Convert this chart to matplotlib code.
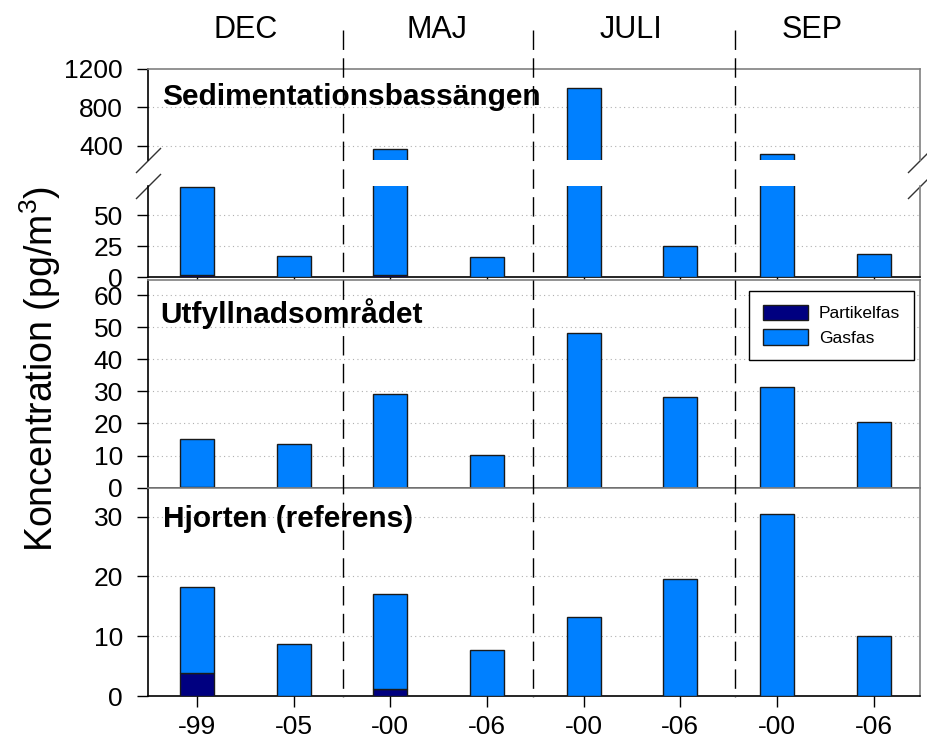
import numpy as np
import matplotlib
matplotlib.use("Agg")
import matplotlib.pyplot as plt
from matplotlib.lines import Line2D
from matplotlib.patches import Patch
from matplotlib.transforms import blended_transform_factory

plt.rcParams["font.family"] = ["Liberation Sans", "DejaVu Sans"]
plt.rcParams["mathtext.fontset"] = "custom"
plt.rcParams["mathtext.rm"] = "Liberation Sans"

# ---------------------------------------------------------------
# Data
# ---------------------------------------------------------------
months = ["DEC", "MAJ", "JULI", "SEP"]
years = ["-99", "-05", "-00", "-06", "-00", "-06", "-00", "-06"]

# Sedimentationsbassängen (total height and particle part)
sed_total = [73, 17.4, 362, 16.1, 1005, 25.5, 313, 18.5]
sed_part = [1.5, 0, 1.5, 0, 0, 0, 0, 0]

# Utfyllnadsområdet
utf_total = [15.3, 13.5, 29.1, 10.1, 48.1, 28.2, 31.5, 20.4]
utf_part = [0.3, 0, 0, 0, 0, 0, 0, 0]

# Hjorten (referens)
hjo_total = [18.2, 8.75, 17.0, 7.7, 13.3, 19.5, 30.4, 10.0]
hjo_part = [3.85, 0, 1.17, 0, 0, 0, 0, 0]

PART_COLOR = "#000080"
GAS_COLOR = "#0080FF"
EDGE = "#1a1a1a"
W = 0.35
x = np.arange(len(years))

fig = plt.figure(figsize=(9.28, 7.38), dpi=100)
L, R = 148 / 928, 920 / 928


def px_axes(top, bottom):
    return fig.add_axes([L, 1 - bottom / 738, R - L, (bottom - top) / 738])


ax_hi = px_axes(69, 160.3)
ax_lo = px_axes(186, 277.3)
ax_mid = px_axes(280, 487.7)
ax_bot = px_axes(488, 696)


def draw_bars(ax, total, part):
    total = np.array(total, dtype=float)
    part = np.array(part, dtype=float)
    gas = total - part
    ax.bar(x, part, W, color=PART_COLOR, edgecolor=EDGE, linewidth=1, zorder=3)
    ax.bar(x, gas, W, bottom=part, color=GAS_COLOR, edgecolor=EDGE, linewidth=1, zorder=3)


def style(ax, ticks, ylim):
    ax.set_xlim(-0.507, 7.48)
    ax.set_ylim(*ylim)
    ax.set_yticks(ticks)
    ax.set_xticks(x)
    ax.tick_params(axis="y", direction="out", length=8, width=1, pad=10, labelsize=19)
    ax.tick_params(axis="x", direction="out", length=6, width=1, labelbottom=False)
    for t in ticks:
        if t > ylim[0] and t < ylim[1]:
            ax.axhline(t, color="#b0b0b0", lw=0.8, ls=(0, (1, 3)), zorder=1)
    ax.spines["left"].set_color("black")
    ax.spines["bottom"].set_color("black")
    ax.spines["top"].set_color("#808080")
    ax.spines["right"].set_color("#808080")
    for s in ax.spines.values():
        s.set_linewidth(1.2)


draw_bars(ax_hi, sed_total, sed_part)
draw_bars(ax_lo, sed_total, sed_part)
draw_bars(ax_mid, utf_total, utf_part)
draw_bars(ax_bot, hjo_total, hjo_part)

style(ax_hi, [400, 800, 1200], (248, 1200))
style(ax_lo, [0, 25, 50], (0, 73.6))
style(ax_mid, [0, 10, 20, 30, 40, 50, 60], (0, 64.7))
style(ax_bot, [0, 10, 20, 30], (0, 34.8))

# broken axis: hide joining spines, add diagonal marks
ax_hi.spines["bottom"].set_visible(False)
ax_hi.tick_params(axis="x", length=0)
ax_lo.spines["top"].set_visible(False)
mark = dict(marker=[(-1, -1), (1, 1)], markersize=18, linestyle="none",
            color="#333333", mec="#333333", mew=1, clip_on=False)
ax_hi.plot([0, 1], [0, 0], transform=ax_hi.transAxes, **mark)
ax_lo.plot([0, 1], [1, 1], transform=ax_lo.transAxes, **mark)

ax_bot.set_xticklabels(years)
ax_bot.tick_params(axis="x", labelbottom=True, labelsize=19, length=8, pad=6)

# panel titles
ax_hi.text(0.018, 0.69, "Sedimentationsbassängen", transform=ax_hi.transAxes,
           fontsize=21.5, fontweight="bold", va="center", ha="left", zorder=5)
ax_mid.text(0.016, 0.84, "Utfyllnadsområdet", transform=ax_mid.transAxes,
            fontsize=21.5, fontweight="bold", va="center", ha="left", zorder=5)
ax_bot.text(0.02, 0.851, "Hjorten (referens)", transform=ax_bot.transAxes,
            fontsize=21.5, fontweight="bold", va="center", ha="left", zorder=5)

# legend
handles = [Patch(facecolor=PART_COLOR, edgecolor=EDGE, label="Partikelfas"),
           Patch(facecolor=GAS_COLOR, edgecolor=EDGE, label="Gasfas")]
leg = ax_mid.legend(handles=handles, loc="upper right", bbox_to_anchor=(0.992, 0.948),
                    borderaxespad=0, fontsize=12.5, frameon=True, fancybox=False,
                    framealpha=1, edgecolor="black", handlelength=2.6, handleheight=1.0,
                    borderpad=0.8, labelspacing=0.45, handletextpad=0.6)
leg.get_frame().set_linewidth(1)
leg.set_zorder(6)

# month separators and labels
trans = blended_transform_factory(ax_bot.transData, fig.transFigure)
for sx in [1.506, 3.478, 5.57]:
    fig.add_artist(Line2D([sx, sx], [1 - 30 / 738, 1 - 697 / 738], transform=trans,
                          color="black", lw=1, ls=(0, (14, 6)), zorder=10))
for mx, m in zip([0.5, 2.48, 4.49, 6.36], months):
    fig.text(mx, 1 - 30 / 738, m, transform=trans, fontsize=22, ha="center", va="center")

fig.text(40 / 928, 0.5, "Koncentration (pg/m$^3$)", rotation=90, fontsize=27,
         ha="center", va="center")

fig.savefig("out.png", dpi=100)
